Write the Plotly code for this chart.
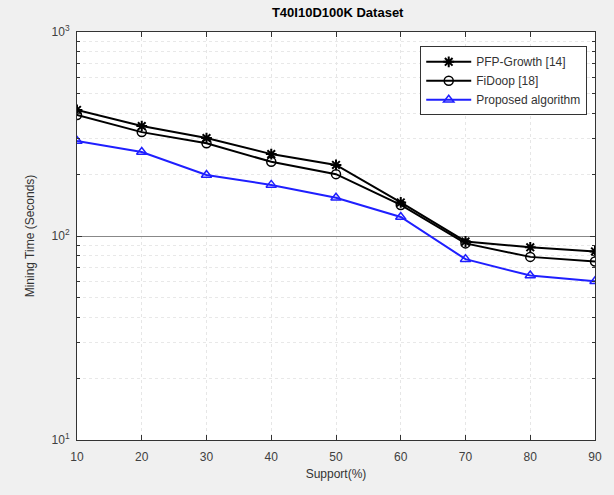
import plotly.graph_objects as go

support = [10, 20, 30, 40, 50, 60, 70, 80, 90]
pfp_growth = [415, 346, 302, 252, 223, 146, 94, 88, 84]
fidoop = [392, 323, 285, 231, 201, 142, 92, 79, 75]
proposed = [292, 258, 199, 178, 154, 124, 77, 64, 60]
series_names = ["PFP-Growth [14]", "FiDoop [18]", "Proposed algorithm"]
y_tickvals = [10, 100, 1000]
y_ticktext = ["10<sup>1</sup>", "10<sup>2</sup>", "10<sup>3</sup>"]

fig = go.Figure()
fig.add_trace(go.Scatter(x=support, y=pfp_growth, name=series_names[0], mode="lines+markers",
                         line=dict(color="black", width=2),
                         marker=dict(symbol="asterisk-open", size=9, color="black", line=dict(width=2, color="black"))))
fig.add_trace(go.Scatter(x=support, y=fidoop, name=series_names[1], mode="lines+markers",
                         line=dict(color="black", width=2),
                         marker=dict(symbol="circle-open", size=9, color="black", line=dict(width=1.5, color="black"))))
fig.add_trace(go.Scatter(x=support, y=proposed, name=series_names[2], mode="lines+markers",
                         line=dict(color="#1f1fff", width=2),
                         marker=dict(symbol="triangle-up-open", size=9, color="#1f1fff", line=dict(width=1.5, color="#1f1fff"))))

fig.update_layout(
    width=614, height=495,
    paper_bgcolor="#f0f0f0", plot_bgcolor="white",
    margin=dict(l=77, r=14, t=32, b=55),
    font=dict(family="Liberation Sans, Arial", size=12, color="#404040"),
    title=dict(text="<b>T40I10D100K Dataset</b>", x=0.55, xanchor="center", y=0.985, yanchor="top",
               font=dict(size=13, color="black")),
    showlegend=True,
    legend=dict(x=0.985, y=0.965, xanchor="right", yanchor="top", bgcolor="white",
                bordercolor="#333333", borderwidth=1, font=dict(size=12, color="#333333"),
                tracegroupgap=0, itemwidth=45),
)
fig.update_xaxes(range=[10, 90], tickvals=support, ticks="inside", ticklen=5, mirror="ticks",
                 showline=True, linecolor="#333333", linewidth=1, showgrid=True, gridcolor="#e6e6e6",
                 griddash="dot", zeroline=False, tickcolor="#333333", ticklabelstandoff=6,
                 title=dict(text="Support(%)", standoff=6, font=dict(size=12, color="#333333")))
fig.update_yaxes(type="log", range=[1, 3], tickvals=y_tickvals, ticktext=y_ticktext, ticks="inside",
                 ticklen=5, mirror="ticks", showline=True, linecolor="#333333", linewidth=1,
                 tickcolor="#333333", ticklabelstandoff=4,
                 showgrid=True, gridcolor="#888888", gridwidth=1,
                 minor=dict(dtick="D1", showgrid=True, gridcolor="#e8e8e8", griddash="dot", ticks="inside",
                            ticklen=3, tickcolor="#333333"),
                 title=dict(text="Mining Time (Seconds)", standoff=14, font=dict(size=12, color="#333333")))
fig.write_html("out.html")
